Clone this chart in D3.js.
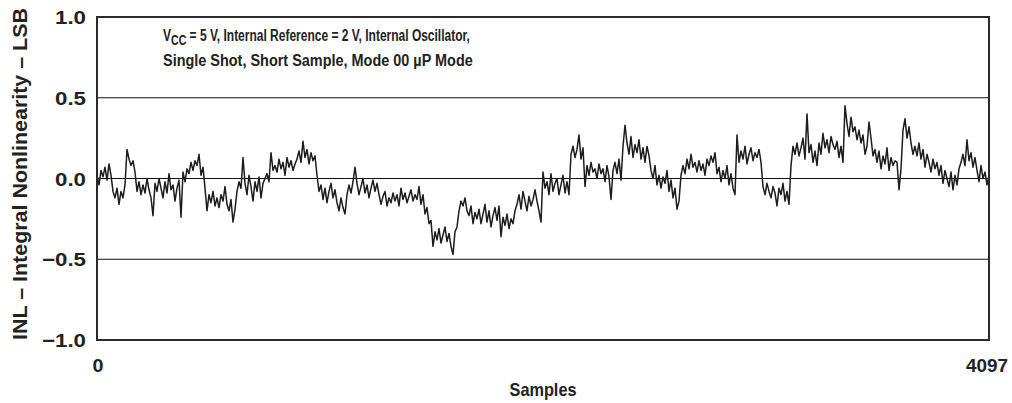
<!DOCTYPE html>
<html><head><meta charset="utf-8">
<script src="https://cdn.jsdelivr.net/npm/d3@7"></script>
<style>
html,body{margin:0;padding:0;background:#fff;}
text{font-family:"Liberation Sans",Arial,Helvetica,sans-serif;font-weight:bold;fill:#222;}
</style></head>
<body><svg id="c" width="1012" height="403"></svg>
<script>
// INL values (LSB) left to right, evenly spread over samples 0..4097
const inl = [
0.02,-0.04,0.05,0.01,0.07,-0.01,0.09,0.02,-0.08,-0.12,
-0.06,-0.16,-0.08,-0.12,-0.04,0.18,0.12,0.08,0.11,0.04,
-0.08,-0.02,-0.1,-0.04,-0.09,0.0,-0.07,-0.12,-0.23,-0.03,
-0.08,0.0,-0.06,-0.12,-0.02,-0.09,0.03,-0.07,-0.04,-0.14,
-0.06,-0.01,-0.24,0.04,-0.02,0.06,0.03,0.1,0.05,0.11,
0.08,0.15,0.02,0.07,-0.06,-0.2,-0.1,-0.15,-0.08,-0.17,
-0.12,-0.18,-0.1,-0.14,-0.05,-0.16,-0.2,-0.13,-0.27,-0.19,
-0.08,-0.02,-0.06,0.13,-0.03,-0.1,0.02,-0.05,-0.14,-0.02,
-0.08,0.01,-0.12,-0.03,0.0,0.03,-0.02,0.16,0.05,0.08,
0.04,0.12,0.06,0.1,0.02,0.13,0.07,0.11,0.05,0.09,
0.12,0.17,0.1,0.23,0.13,0.18,0.09,0.16,0.11,0.14,
0.02,-0.08,-0.04,-0.13,-0.06,-0.15,-0.08,-0.03,-0.12,-0.07,
-0.15,-0.2,-0.12,-0.18,-0.22,-0.1,-0.04,-0.09,-0.02,0.07,
-0.03,-0.1,-0.05,0.0,-0.09,-0.04,-0.12,-0.06,-0.01,-0.08,
-0.03,-0.1,-0.16,-0.11,-0.08,-0.17,-0.12,-0.15,-0.09,-0.14,
-0.1,-0.17,-0.06,-0.13,-0.09,-0.15,-0.11,-0.07,-0.14,-0.1,
-0.13,-0.05,-0.16,-0.1,-0.22,-0.18,-0.28,-0.26,-0.42,-0.33,
-0.38,-0.31,-0.4,-0.35,-0.3,-0.39,-0.34,-0.42,-0.47,-0.33,
-0.3,-0.2,-0.14,-0.17,-0.12,-0.2,-0.23,-0.17,-0.28,-0.21,
-0.25,-0.19,-0.28,-0.22,-0.16,-0.27,-0.2,-0.3,-0.23,-0.18,
-0.26,-0.17,-0.36,-0.24,-0.29,-0.22,-0.31,-0.25,-0.28,-0.2,
-0.16,-0.1,-0.19,-0.08,-0.14,-0.2,-0.11,-0.17,-0.13,-0.07,
-0.14,-0.2,-0.27,0.04,-0.06,-0.02,-0.1,0.03,-0.08,-0.03,
0.0,-0.1,-0.04,0.02,-0.09,-0.02,-0.1,0.15,0.2,0.13,
0.18,0.27,0.12,0.19,-0.05,0.08,0.02,0.1,0.04,0.06,
0.0,0.09,0.03,0.06,-0.02,0.08,0.01,-0.13,0.05,0.1,
0.03,0.12,-0.01,0.2,0.33,0.22,0.15,0.26,0.13,0.21,
0.16,0.24,0.12,0.19,0.1,0.2,0.14,0.05,0.0,0.08,
-0.04,0.02,-0.06,0.01,-0.03,0.05,-0.08,-0.01,-0.12,-0.06,
-0.19,-0.14,0.02,0.08,0.03,0.12,0.06,0.15,0.07,0.1,
0.04,0.11,0.05,0.09,0.02,0.12,0.08,0.14,0.1,0.16,
0.03,0.07,-0.02,0.05,0.0,0.08,-0.04,0.03,-0.06,-0.1,
0.27,0.1,0.17,0.12,0.2,0.09,0.15,0.19,0.11,0.16,
0.13,0.18,0.1,-0.05,-0.1,-0.03,-0.08,-0.12,-0.05,-0.09,
-0.17,-0.06,-0.1,-0.03,-0.14,-0.08,-0.16,0.08,0.2,0.15,
0.22,0.14,0.19,0.25,0.12,0.4,0.16,0.21,0.1,0.17,
0.08,0.22,0.15,0.28,0.19,0.24,0.16,0.26,0.21,0.18,
0.23,0.13,0.2,0.1,0.45,0.34,0.26,0.38,0.29,0.32,
0.24,0.3,0.22,0.27,0.15,0.2,0.35,0.25,0.14,0.18,
0.1,0.17,0.06,0.14,0.09,0.19,0.05,0.13,0.08,0.11,
0.1,-0.07,0.06,0.3,0.37,0.25,0.32,0.22,0.15,0.2,
0.14,0.22,0.12,0.18,0.07,0.15,0.1,0.04,0.12,0.06,
0.1,0.02,0.08,-0.03,0.05,0.0,-0.05,0.04,-0.07,0.02,
-0.04,0.06,0.1,0.15,0.08,0.24,0.11,0.16,0.07,0.13,
0.05,-0.02,0.08,0.0,0.04,-0.04,0.02
];
const xTicks = [0, 4097];
const xTickLabels = ["0", "4097"];
const yTicks = [-1.0, -0.5, 0.0, 0.5, 1.0];
const yTickLabels = ["\u22121.0", "\u22120.5", "0.0", "0.5", "1.0"];
const gridValues = [-0.5, 0.0, 0.5];
const xTitle = "Samples";
const yTitle = "INL \u2013 Integral Nonlinearity \u2013 LSB";

const svg = d3.select("#c");
const L = 97, R = 989, T = 17, B = 340;
const x = d3.scaleLinear().domain([0, 4097]).range([L, R]);
const y = d3.scaleLinear().domain([-1, 1]).range([B, T]);
const n = inl.length;
const pts = inl.map((v, i) => [i * 4097 / (n - 1), v]);

// text helper: place text and squeeze/stretch it horizontally to a target width
function label(str, tx, ty, size, anchor, width, rot) {
  const g = svg.append("g").attr("transform", `translate(${tx},${ty})` + (rot ? ` rotate(${rot})` : ""));
  const t = g.append("text").attr("text-anchor", anchor).style("font-size", size + "px").text(str);
  if (width) {
    const w = t.node().getComputedTextLength();
    t.attr("transform", `scale(${width / w},1)`);
  }
  return t;
}

// grid
svg.append("g").selectAll("line").data(gridValues).join("line")
  .attr("x1", L).attr("x2", R).attr("y1", d => y(d)).attr("y2", d => y(d))
  .attr("stroke", "#111").attr("stroke-width", 1);

// data line
svg.append("path").datum(pts)
  .attr("fill", "none").attr("stroke", "#1c1c1c").attr("stroke-width", 1.5)
  .attr("stroke-linejoin", "round")
  .attr("d", d3.line().x(d => x(d[0])).y(d => y(d[1])));

// frame
svg.append("rect").attr("x", L).attr("y", T).attr("width", R - L).attr("height", B - T)
  .attr("fill", "none").attr("stroke", "#2a2a2a").attr("stroke-width", 2);

// y tick labels
yTicks.forEach((d, i) => label(yTickLabels[i], 86, y(d) + 7, 19, "end", d < 0 ? 44 : 31));

// x tick labels
label(xTickLabels[0], x(xTicks[0]) + 1, 372, 19, "middle", 11);
label(xTickLabels[1], x(xTicks[1]) - 2, 372, 19, "middle", 42);

label(xTitle, (L + R) / 2, 396, 18, "middle", 67);
label(yTitle, 27, 174, 20, "middle", 332, -90);

// annotation
const ann = svg.append("g").attr("transform", "translate(163,41)")
  .append("text").style("font-size", "17px");
ann.append("tspan").text("V");
ann.append("tspan").attr("dy", 4).style("font-size", "15px").text("CC");
ann.append("tspan").attr("dy", -4).text(" = 5 V, Internal Reference = 2 V, Internal Oscillator,");
ann.attr("transform", `scale(${307 / ann.node().getComputedTextLength()},1)`);
label("Single Shot, Short Sample, Mode 00 \u00b5P Mode", 163, 66, 17, "start", 310);
</script></body></html>
